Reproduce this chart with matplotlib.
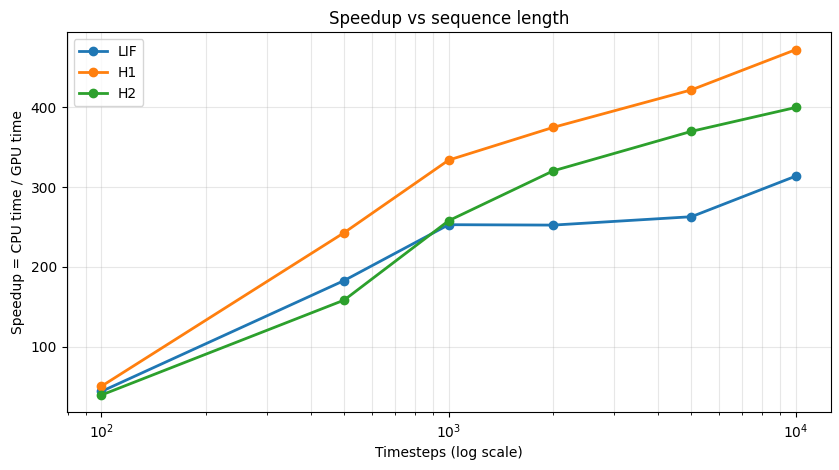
import matplotlib
matplotlib.use("Agg")
import matplotlib.pyplot as plt

timesteps = [100, 500, 1000, 2000, 5000, 10000]
lif = [44, 183, 253, 252.5, 263, 314]
h1 = [50.5, 243, 334, 375, 422, 472.5]
h2 = [39.5, 158.5, 258, 320.5, 370, 400]

fig = plt.figure(figsize=(8.39, 4.70), dpi=100)
L, R, T, B = 66.7, 830.7, 32.3, 412.3
ax = fig.add_axes([L/839, 1-B/470, (R-L)/839, (B-T)/470])
ax.plot(timesteps, lif, marker="o", linewidth=2, label="LIF")
ax.plot(timesteps, h1, marker="o", linewidth=2, label="H1")
ax.plot(timesteps, h2, marker="o", linewidth=2, label="H2")
ax.set_xscale("log")
ax.set_xlabel("Timesteps (log scale)")
ax.set_ylabel("Speedup = CPU time / GPU time")
ax.set_title("Speedup vs sequence length")
ax.grid(True, which="both", alpha=0.3)
ax.legend(loc="upper left")
fig.savefig("out.png", dpi=100)
